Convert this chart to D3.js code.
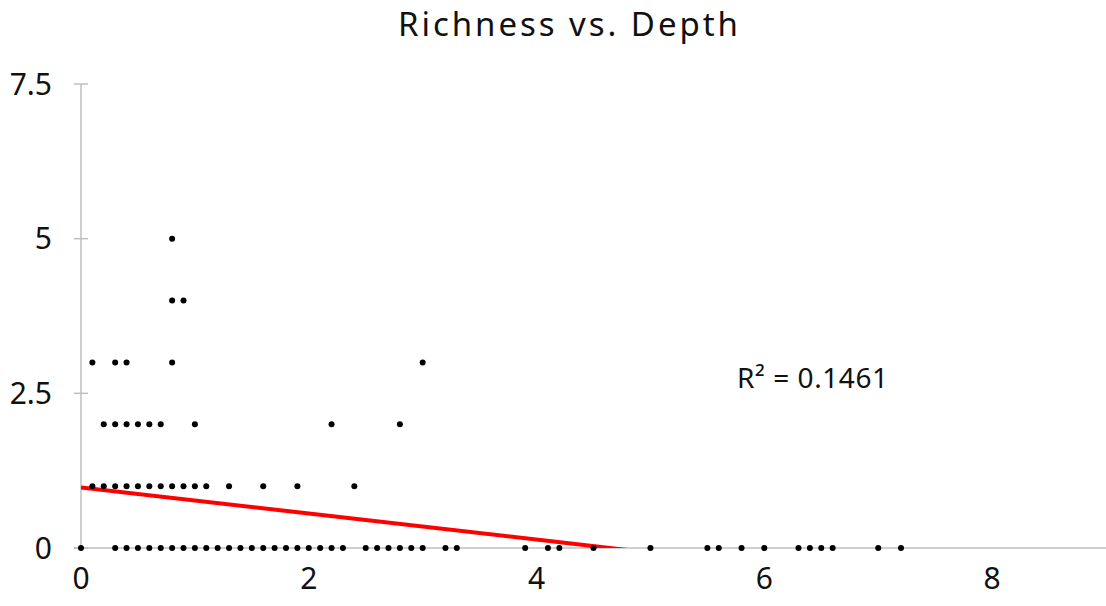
<!DOCTYPE html>
<html>
<head>
<meta charset="utf-8">
<script src="https://cdn.jsdelivr.net/npm/d3@7"></script>
<style>
  body { margin: 0; background: white; }
  svg text { font-family: "Noto Sans", sans-serif; fill: #111; }
</style>
</head>
<body>
<div id="chart"></div>
<script>
const width = 1106
const height = 606

// depth (x) and richness (y)
const depth0 = [0, 0.3, 0.4, 0.5, 0.6, 0.7, 0.8, 0.9, 1.0, 1.1, 1.2, 1.3, 1.4, 1.5, 1.6, 1.7, 1.8, 1.9, 2.0, 2.1, 2.2, 2.3,
  2.5, 2.6, 2.7, 2.8, 2.9, 3.0, 3.2, 3.3, 3.9, 4.1, 4.2, 4.5, 5.0, 5.5, 5.6, 5.8, 6.0, 6.3, 6.4, 6.5, 6.6, 7.0, 7.2]
const depth1 = [0.1, 0.2, 0.3, 0.4, 0.5, 0.6, 0.7, 0.8, 0.9, 1.0, 1.1, 1.3, 1.6, 1.9, 2.4]
const depth2 = [0.2, 0.3, 0.4, 0.5, 0.6, 0.7, 1.0, 2.2, 2.8]
const depth3 = [0.1, 0.3, 0.4, 0.8, 3.0]
const depth4 = [0.8, 0.9]
const depth5 = [0.8]

const xTicks = [0, 2, 4, 6, 8]
const yTicks = [0, 2.5, 5, 7.5]
const yTickLabels = ['0', '2.5', '5', '7.5']

// linear trendline as shown
const trendIntercept = 0.98
const trendSlope = -0.211
const r2Label = 'R² = 0.1461'

const points = []
;[depth0, depth1, depth2, depth3, depth4, depth5].forEach((arr, richness) => {
    arr.forEach(d => points.push({depth: d, richness: richness}))
})

const x = d3.scaleLinear().domain([0, 9]).range([81, 1106])
const y = d3.scaleLinear().domain([0, 7.5]).range([548, 84])

const svg = d3.select('#chart').append('svg')
    .attr('width', width)
    .attr('height', height)

svg.append('text')
    .attr('x', 568)
    .attr('y', 36)
    .attr('text-anchor', 'middle')
    .attr('textLength', 340)
    .attr('lengthAdjust', 'spacing')
    .style('font-size', '33px')
    .text('Richness vs. Depth')

// y axis
const yAxis = svg.append('g')
yAxis.append('line')
    .attr('x1', x(0)).attr('x2', x(0))
    .attr('y1', y(7.5)).attr('y2', y(0))
    .attr('stroke', '#bfbfbf').attr('stroke-width', 1.5)
yAxis.selectAll('.ytick').data(yTicks).join('line')
    .attr('class', 'ytick')
    .attr('x1', x(0) - 7).attr('x2', x(0) + 7)
    .attr('y1', d => y(d)).attr('y2', d => y(d))
    .attr('stroke', '#bfbfbf').attr('stroke-width', 1.5)
yAxis.selectAll('.ylab').data(yTicks).join('text')
    .attr('class', 'ylab')
    .attr('x', 52)
    .attr('y', d => y(d))
    .attr('dy', '0.36em')
    .attr('text-anchor', 'end')
    .style('font-size', '30px')
    .text((d, i) => yTickLabels[i])

// x axis
const xAxis = svg.append('g')
xAxis.append('line')
    .attr('x1', x(0) - 7).attr('x2', x(9))
    .attr('y1', y(0)).attr('y2', y(0))
    .attr('stroke', '#bfbfbf').attr('stroke-width', 1.5)
xAxis.selectAll('.xlab').data(xTicks).join('text')
    .attr('class', 'xlab')
    .attr('x', d => x(d))
    .attr('y', 578)
    .attr('dy', '0.36em')
    .attr('text-anchor', 'middle')
    .style('font-size', '30px')
    .text(d => d)

// trendline, clipped to the plot area
svg.append('clipPath').attr('id', 'plot-clip')
    .append('rect')
    .attr('x', x(0)).attr('y', y(7.5))
    .attr('width', x(9) - x(0)).attr('height', y(0) - y(7.5))

const xMax = d3.max(points, d => d.depth)
svg.append('line')
    .attr('clip-path', 'url(#plot-clip)')
    .attr('x1', x(0)).attr('y1', y(trendIntercept))
    .attr('x2', x(xMax)).attr('y2', y(trendIntercept + trendSlope * xMax))
    .attr('stroke', '#ff0000').attr('stroke-width', 4)

svg.append('g').selectAll('circle').data(points).join('circle')
    .attr('cx', d => x(d.depth))
    .attr('cy', d => y(d.richness))
    .attr('r', 3)
    .attr('fill', '#000')

svg.append('text')
    .attr('x', 737)
    .attr('y', 378)
    .attr('dy', '0.36em')
    .attr('textLength', 151)
    .attr('lengthAdjust', 'spacing')
    .style('font-size', '28px')
    .text(r2Label)
</script>
</body>
</html>
